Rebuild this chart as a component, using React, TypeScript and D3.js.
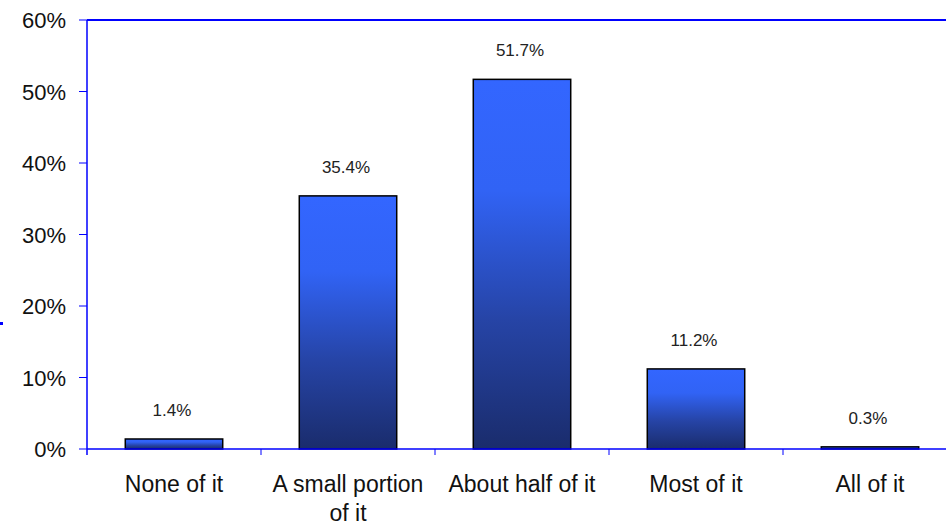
import React from "react";
import * as d3 from "d3";

const categories: string[][] = [
  ["None of it"],
  ["A small portion", "of it"],
  ["About half of it"],
  ["Most of it"],
  ["All of it"],
];
const values: number[] = [1.4, 35.4, 51.7, 11.2, 0.3];
const yTicks: number[] = [0, 10, 20, 30, 40, 50, 60];

const W = 946;
const H = 525;
const left = 87;
const right = 957;
const top = 20;
const bottom = 449;

export default function App() {
  const x = d3
    .scaleBand<number>()
    .domain(values.map((_, i) => i))
    .range([left, right])
    .paddingInner(0.44)
    .paddingOuter(0.22);
  const step = x.step();
  const y = d3.scaleLinear().domain([0, 60]).range([bottom, top]);

  return (
    <svg
      width={W}
      height={H}
      style={{ position: "absolute", left: 0, top: 0, background: "#fff" }}
    >
      <defs>
        <linearGradient id="barGrad" x1="0" y1="0" x2="0" y2="1">
          <stop offset="0" stopColor="#3366ff" />
          <stop offset="0.3" stopColor="#3163f5" />
          <stop offset="0.65" stopColor="#2644a6" />
          <stop offset="1" stopColor="#1a2c6c" />
        </linearGradient>
      </defs>
      <rect x={0} y={322} width={3} height={3} fill="#0000ff" />
      {values.map((v, i) => {
        const bx = x(i)!;
        const by = y(v);
        return (
          <g key={i}>
            <rect
              x={bx}
              y={by}
              width={x.bandwidth()}
              height={Math.max(bottom - by, 0.5)}
              fill="url(#barGrad)"
              stroke="#000"
              strokeWidth={1.5}
            />
            <text
              x={bx + x.bandwidth() / 2 - 2}
              y={by - 23}
              textAnchor="middle"
              fontFamily="'Liberation Sans Narrow', 'Arial Narrow', 'Liberation Sans', sans-serif"
              fontSize={17}
              fill="#222"
            >
              {v.toFixed(1)}%
            </text>
          </g>
        );
      })}
      <line x1={left} x2={W} y1={top} y2={top} stroke="#0000ff" strokeWidth={2} />
      <line x1={left} x2={left} y1={top} y2={bottom + 6} stroke="#0000ff" strokeWidth={1.5} />
      <line x1={left} x2={W} y1={bottom} y2={bottom} stroke="#0000ff" strokeWidth={1.5} />
      {yTicks.map((t) => (
        <g key={t}>
          <line x1={left - 8} x2={left} y1={y(t)} y2={y(t)} stroke="#0000ff" strokeWidth={1} />
          <text
            x={66}
            y={y(t) + 8}
            textAnchor="end"
            fontFamily="'Liberation Sans', Arial, sans-serif"
            fontSize={22}
            fill="#111"
          >
            {t}%
          </text>
        </g>
      ))}
      {values.map((_, i) => {
        const tx = left + step * i;
        return i === 0 ? null : (
          <line key={i} x1={tx} x2={tx} y1={bottom} y2={bottom + 6} stroke="#0000ff" strokeWidth={1} />
        );
      })}
      {categories.map((lines, i) => {
        const cx = left + step * i + step / 2;
        return (
          <text
            key={i}
            x={cx}
            y={492}
            textAnchor="middle"
            fontFamily="'Liberation Sans', Arial, sans-serif"
            fontSize={23}
            fill="#111"
          >
            {lines.map((l, j) => (
              <tspan key={j} x={cx} dy={j === 0 ? 0 : 29}>
                {l}
              </tspan>
            ))}
          </text>
        );
      })}
    </svg>
  );
}
